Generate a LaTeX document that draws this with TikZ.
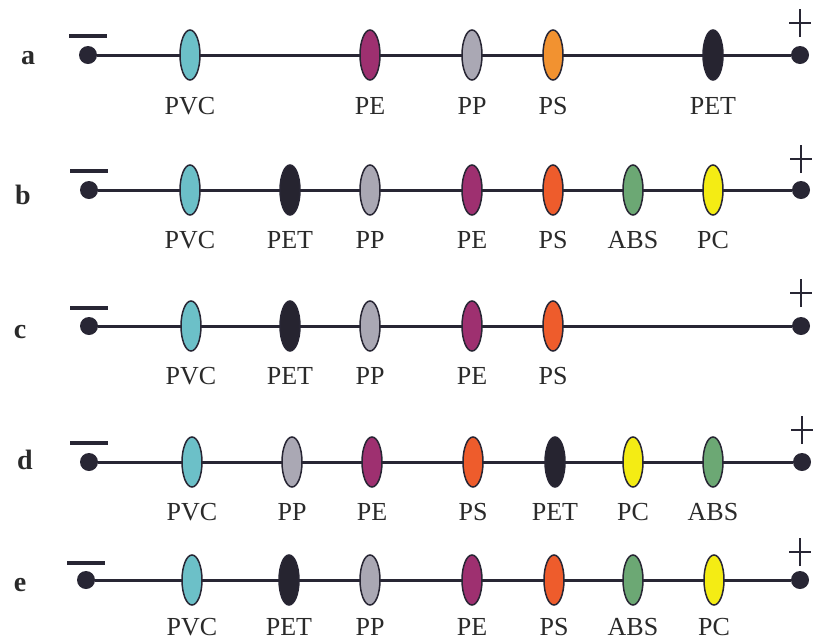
\documentclass[tikz,border=0pt]{standalone}
\usepackage{fontspec}
\setmainfont{Liberation Serif}
\usepackage{xcolor}
\usepackage{tikz}
\usetikzlibrary{shapes, positioning}

\definecolor{pvcc}{RGB}{108,192,200}
\definecolor{pec}{RGB}{158,48,112}
\definecolor{ppc}{RGB}{170,168,180}
\definecolor{psc}{RGB}{238,92,44}
\definecolor{psac}{RGB}{242,146,48}
\definecolor{petc}{RGB}{38,36,48}
\definecolor{absc}{RGB}{108,168,116}
\definecolor{pcc}{RGB}{244,236,20}
\definecolor{inkc}{RGB}{40,38,52}
\definecolor{txtc}{RGB}{42,42,42}

\begin{document}
\begin{tikzpicture}[
    x=1pt, y=-1pt,
    blob/.style={ellipse, draw=inkc, line width=1.5pt, minimum width=20pt, minimum height=50pt, inner sep=0pt},
    pole/.style={circle, fill=inkc, minimum size=18pt, inner sep=0pt},
    wire/.style={draw=inkc, line width=3pt},
    sign/.style={draw=inkc, line width=3.5pt},
    plus/.style={draw=inkc, line width=2.6pt},
    lbl/.style={font=\fontsize{26}{28}\selectfont, text=txtc, inner sep=0pt, text height=18pt, text depth=0pt},
    tag/.style={font=\fontsize{28}{30}\selectfont\bfseries, text=txtc, inner sep=0pt}
]
\useasboundingbox (0,0) rectangle (819,641);

% Row a
\node[tag] (ta) at (28,58) {a};
\node[pole] (aneg) at (88,55) {};
\node[pole] (apos) at (800,55) {};
\draw[wire] (aneg) -- (apos);
\draw[sign] ([xshift=-19pt,yshift=19pt]aneg.center) -- ++(38pt,0pt);
\draw[plus] ([xshift=-11pt,yshift=32pt]apos.center) -- ++(22pt,0pt)
    ([yshift=18pt]apos.center) -- ++(0pt,28pt);
\node[blob, fill=pvcc] (aPVC) at (190,55) {};
\node[blob, fill=pec] (aPE) at (370,55) {};
\node[blob, fill=ppc] (aPP) at (472,55) {};
\node[blob, fill=psac] (aPS) at (553,55) {};
\node[blob, fill=petc] (aPET) at (713,55) {};
\node[lbl, below=16pt of aPVC] (aPVCt) {PVC};
\node[lbl, below=16pt of aPE] (aPEt) {PE};
\node[lbl, below=16pt of aPP] (aPPt) {PP};
\node[lbl, below=16pt of aPS] (aPSt) {PS};
\node[lbl, below=16pt of aPET] (aPETt) {PET};

% Row b
\node[tag] (tb) at (23,195) {b};
\node[pole] (bneg) at (89,190) {};
\node[pole] (bpos) at (801,190) {};
\draw[wire] (bneg) -- (bpos);
\draw[sign] ([xshift=-19pt,yshift=19pt]bneg.center) -- ++(38pt,0pt);
\draw[plus] ([xshift=-11pt,yshift=31pt]bpos.center) -- ++(22pt,0pt)
    ([yshift=17pt]bpos.center) -- ++(0pt,28pt);
\node[blob, fill=pvcc] (bPVC) at (190,190) {};
\node[blob, fill=petc] (bPET) at (290,190) {};
\node[blob, fill=ppc] (bPP) at (370,190) {};
\node[blob, fill=pec] (bPE) at (472,190) {};
\node[blob, fill=psc] (bPS) at (553,190) {};
\node[blob, fill=absc] (bABS) at (633,190) {};
\node[blob, fill=pcc] (bPC) at (713,190) {};
\node[lbl, below=15pt of bPVC] (bPVCt) {PVC};
\node[lbl, below=15pt of bPET] (bPETt) {PET};
\node[lbl, below=15pt of bPP] (bPPt) {PP};
\node[lbl, below=15pt of bPE] (bPEt) {PE};
\node[lbl, below=15pt of bPS] (bPSt) {PS};
\node[lbl, below=15pt of bABS] (bABSt) {ABS};
\node[lbl, below=15pt of bPC] (bPCt) {PC};

% Row c
\node[tag] (tc) at (20,332) {c};
\node[pole] (cneg) at (89,326) {};
\node[pole] (cpos) at (801,326) {};
\draw[wire] (cneg) -- (cpos);
\draw[sign] ([xshift=-19pt,yshift=18pt]cneg.center) -- ++(38pt,0pt);
\draw[plus] ([xshift=-11pt,yshift=33pt]cpos.center) -- ++(22pt,0pt)
    ([yshift=19pt]cpos.center) -- ++(0pt,28pt);
\node[blob, fill=pvcc] (cPVC) at (191,326) {};
\node[blob, fill=petc] (cPET) at (290,326) {};
\node[blob, fill=ppc] (cPP) at (370,326) {};
\node[blob, fill=pec] (cPE) at (472,326) {};
\node[blob, fill=psc] (cPS) at (553,326) {};
\node[lbl, below=15pt of cPVC] (cPVCt) {PVC};
\node[lbl, below=15pt of cPET] (cPETt) {PET};
\node[lbl, below=15pt of cPP] (cPPt) {PP};
\node[lbl, below=15pt of cPE] (cPEt) {PE};
\node[lbl, below=15pt of cPS] (cPSt) {PS};

% Row d
\node[tag] (td) at (25,460) {d};
\node[pole] (dneg) at (89,462) {};
\node[pole] (dpos) at (802,462) {};
\draw[wire] (dneg) -- (dpos);
\draw[sign] ([xshift=-19pt,yshift=19pt]dneg.center) -- ++(38pt,0pt);
\draw[plus] ([xshift=-11pt,yshift=32pt]dpos.center) -- ++(22pt,0pt)
    ([yshift=18pt]dpos.center) -- ++(0pt,28pt);
\node[blob, fill=pvcc] (dPVC) at (192,462) {};
\node[blob, fill=ppc] (dPP) at (292,462) {};
\node[blob, fill=pec] (dPE) at (372,462) {};
\node[blob, fill=psc] (dPS) at (473,462) {};
\node[blob, fill=petc] (dPET) at (555,462) {};
\node[blob, fill=pcc] (dPC) at (633,462) {};
\node[blob, fill=absc] (dABS) at (713,462) {};
\node[lbl, below=15pt of dPVC] (dPVCt) {PVC};
\node[lbl, below=15pt of dPP] (dPPt) {PP};
\node[lbl, below=15pt of dPE] (dPEt) {PE};
\node[lbl, below=15pt of dPS] (dPSt) {PS};
\node[lbl, below=15pt of dPET] (dPETt) {PET};
\node[lbl, below=15pt of dPC] (dPCt) {PC};
\node[lbl, below=15pt of dABS] (dABSt) {ABS};

% Row e
\node[tag] (te) at (20,585) {e};
\node[pole] (eneg) at (86,580) {};
\node[pole] (epos) at (800,580) {};
\draw[wire] (eneg) -- (epos);
\draw[sign] ([xshift=-19pt,yshift=17pt]eneg.center) -- ++(38pt,0pt);
\draw[plus] ([xshift=-11pt,yshift=28pt]epos.center) -- ++(22pt,0pt)
    ([yshift=14pt]epos.center) -- ++(0pt,28pt);
\node[blob, fill=pvcc] (ePVC) at (192,580) {};
\node[blob, fill=petc] (ePET) at (289,580) {};
\node[blob, fill=ppc] (ePP) at (370,580) {};
\node[blob, fill=pec] (ePE) at (472,580) {};
\node[blob, fill=psc] (ePS) at (554,580) {};
\node[blob, fill=absc] (eABS) at (633,580) {};
\node[blob, fill=pcc] (ePC) at (714,580) {};
\node[lbl, below=12pt of ePVC] (ePVCt) {PVC};
\node[lbl, below=12pt of ePET] (ePETt) {PET};
\node[lbl, below=12pt of ePP] (ePPt) {PP};
\node[lbl, below=12pt of ePE] (ePEt) {PE};
\node[lbl, below=12pt of ePS] (ePSt) {PS};
\node[lbl, below=12pt of eABS] (eABSt) {ABS};
\node[lbl, below=12pt of ePC] (ePCt) {PC};

\end{tikzpicture}
\end{document}
